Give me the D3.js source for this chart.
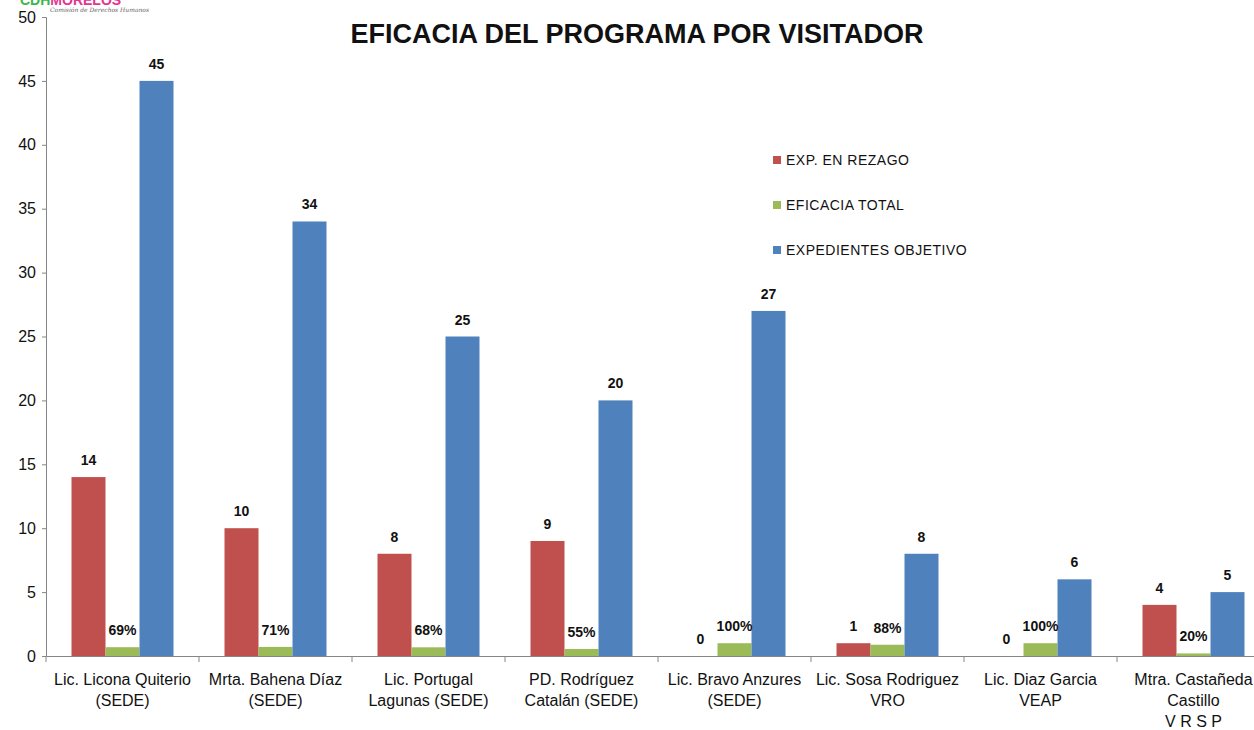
<!DOCTYPE html>
<html>
<head>
<meta charset="utf-8">
<script src="https://cdn.jsdelivr.net/npm/d3@7"></script>
<style>
  body { margin: 0; background: #fff; }
  svg { display: block; }
</style>
</head>
<body>
<div class="canvas"></div>
<script>
const categories = [
  ['Lic. Licona Quiterio', '(SEDE)'],
  ['Mrta. Bahena Díaz', '(SEDE)'],
  ['Lic. Portugal', 'Lagunas (SEDE)'],
  ['PD. Rodríguez', 'Catalán (SEDE)'],
  ['Lic. Bravo Anzures', '(SEDE)'],
  ['Lic. Sosa Rodriguez', 'VRO'],
  ['Lic. Diaz Garcia', 'VEAP'],
  ['Mtra. Castañeda', 'Castillo', 'V R S P'],
];
const seriesNames = ['EXP. EN REZAGO', 'EFICACIA TOTAL', 'EXPEDIENTES OBJETIVO'];
const rezago = [14, 10, 8, 9, 0, 1, 0, 4];
const eficacia = [0.69, 0.71, 0.68, 0.55, 1.0, 0.88, 1.0, 0.2];
const objetivo = [45, 34, 25, 20, 27, 8, 6, 5];
const yTicks = [0, 5, 10, 15, 20, 25, 30, 35, 40, 45, 50];

const colors = ['#C0504D', '#9BBB59', '#4F81BD'];
const width = 1254;
const height = 730;

const svg = d3
  .select('.canvas')
  .append('svg')
  .attr('width', width)
  .attr('height', height);

//logo remnant top left (cut off at the top like the reference)
const logo = svg.append('text').attr('x', 20).attr('y', 5)
  .attr('font-family', 'Liberation Sans').attr('font-weight', 'bold').attr('font-size', 14);
logo.append('tspan').attr('fill', '#3cb54a').text('CDH');
logo.append('tspan').attr('fill', '#e5338f').text('MORELOS');
svg.append('text').attr('x', 50).attr('y', 12)
  .attr('font-family', 'DejaVu Serif').attr('font-style', 'italic')
  .attr('font-size', 6).attr('fill', '#666')
  .text('Comisión de Derechos Humanos');

//title
svg.append('text')
  .attr('x', 637).attr('y', 43)
  .attr('text-anchor', 'middle')
  .attr('font-family', 'Liberation Sans').attr('font-weight', 'bold')
  .attr('font-size', 27).attr('fill', '#111')
  .text('EFICACIA DEL PROGRAMA POR VISITADOR');

//scales
const idx = d3.range(categories.length);
const x0 = d3.scaleBand().domain(idx).range([46, 1270]).paddingInner(0).paddingOuter(0);
const x1 = d3.scaleBand().domain(d3.range(3)).range([0, x0.bandwidth()]).paddingInner(0).paddingOuter(0.75);
const y = d3.scaleLinear().domain([0, 50]).range([656, 17]);

//y axis
const yAxis = d3.axisLeft(y).tickValues(yTicks).tickSize(4).tickPadding(6);
const yG = svg.append('g').attr('transform', 'translate(46,0)').call(yAxis);
yG.select('.domain').attr('stroke', '#868686');
yG.selectAll('.tick line').attr('stroke', '#868686');
yG.selectAll('text').attr('font-family', 'Liberation Sans').attr('font-size', 16).attr('fill', '#111');

//bars
const data = idx.map((i) => [rezago[i], eficacia[i], objetivo[i]]);
const groups = svg.selectAll('g.grp').data(data).enter().append('g')
  .attr('class', 'grp')
  .attr('transform', (d, i) => `translate(${x0(i)},0)`);

groups.selectAll('rect').data((d) => d).enter().append('rect')
  .attr('x', (d, j) => x1(j))
  .attr('y', (d) => y(d))
  .attr('width', x1.bandwidth())
  .attr('height', (d) => y(0) - y(d))
  .attr('fill', (d, j) => colors[j]);

groups.selectAll('text.val').data((d) => d).enter().append('text')
  .attr('class', 'val')
  .attr('x', (d, j) => x1(j) + x1.bandwidth() / 2)
  .attr('y', (d) => y(d) - 12)
  .attr('text-anchor', 'middle')
  .attr('font-family', 'Liberation Sans').attr('font-weight', 'bold')
  .attr('font-size', 14).attr('fill', '#111')
  .text((d, j) => (j === 1 ? Math.round(d * 100) + '%' : d));

//x axis
const xAxis = d3.axisBottom(x0).tickValues([]).tickSizeOuter(0);
const xG = svg.append('g').attr('transform', 'translate(0,656)').call(xAxis);
xG.select('.domain').attr('stroke', '#868686');
xG.selectAll('line.sep').data(d3.range(categories.length + 1)).enter().append('line')
  .attr('class', 'sep')
  .attr('x1', (d) => 46 + d * x0.step())
  .attr('x2', (d) => 46 + d * x0.step())
  .attr('y1', 0).attr('y2', 6)
  .attr('stroke', '#868686');

const labels = svg.selectAll('text.cat').data(categories).enter().append('text')
  .attr('class', 'cat')
  .attr('text-anchor', 'middle')
  .attr('font-family', 'Liberation Sans').attr('font-size', 16).attr('fill', '#111');
labels.selectAll('tspan').data((d, i) => d.map((t) => ({ t, i }))).enter().append('tspan')
  .attr('x', (d) => x0(d.i) + x0.bandwidth() / 2)
  .attr('y', (d, k) => 685 + k * 21)
  .text((d) => d.t);

//legend
const legend = svg.append('g').attr('transform', 'translate(773,160)');
seriesNames.forEach((name, j) => {
  legend.append('rect').attr('x', 0).attr('y', j * 45 - 4).attr('width', 8).attr('height', 8).attr('fill', colors[j]);
  legend.append('text').attr('x', 13).attr('y', j * 45 + 5)
    .attr('font-family', 'Liberation Sans').attr('font-size', 14)
    .attr('letter-spacing', 0.5).attr('fill', '#111')
    .text(name);
});
</script>
</body>
</html>
